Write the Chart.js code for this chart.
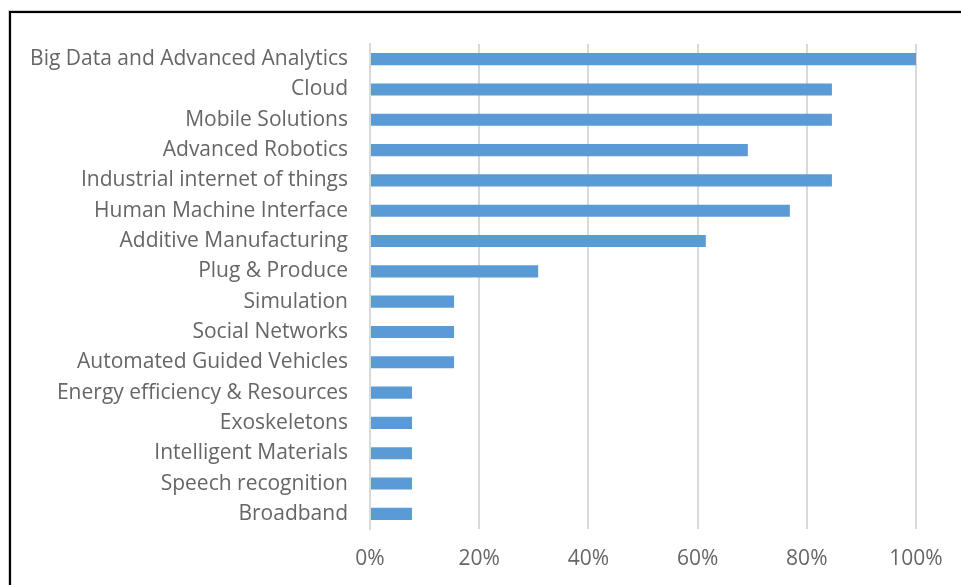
<!DOCTYPE html>
<html>
<head>
<meta charset="utf-8">
<script src="https://cdn.jsdelivr.net/npm/chart.js@4"></script>
<style>
  html, body { margin: 0; padding: 0; background: #fff; }
  #wrap { position: relative; width: 961px; height: 585px; overflow: hidden; }
  #frame {
    position: absolute; left: 9px; top: 11px; width: 970px; height: 600px;
    border-left: 2px solid #000; border-top: 2px solid #000;
    box-shadow: -1px -1px 0 #d0d0d0, inset 1px 1px 0 #e4e4e4;
  }
  canvas { position: absolute; left: 0; top: 0; }
</style>
</head>
<body>
<div id="wrap">
  <div id="frame"></div>
  <canvas id="barChart" width="961" height="585"></canvas>
</div>
<script>
// technologies, top to bottom
var technologies = [
  'Big Data and Advanced Analytics',
  'Cloud',
  'Mobile Solutions',
  'Advanced Robotics',
  'Industrial internet of things',
  'Human Machine Interface',
  'Additive Manufacturing',
  'Plug & Produce',
  'Simulation',
  'Social Networks',
  'Automated Guided Vehicles',
  'Energy efficiency & Resources',
  'Exoskeletons',
  'Intelligent Materials',
  'Speech recognition',
  'Broadband'
];

// share of answers, percent
var shares = [100, 84.6, 84.6, 69.2, 84.6, 76.9, 61.5, 30.8, 15.4, 15.4, 15.4, 7.7, 7.7, 7.7, 7.7, 7.7];

var percentTicks = [0, 20, 40, 60, 80, 100];

var labelFont = { family: '"Open Sans", sans-serif', size: 21 };

var ctx = document.getElementById('barChart').getContext('2d');
new Chart(ctx, {
  type: 'bar',
  data: {
    labels: technologies,
    datasets: [
      {
        data: shares,
        backgroundColor: '#5b9bd5',
        borderWidth: 0,
        barPercentage: 0.4,
        categoryPercentage: 1
      }
    ]
  },
  options: {
    indexAxis: 'y',
    responsive: false,
    animation: false,
    layout: { padding: { left: 0, right: 45, top: 44, bottom: 0 } },
    plugins: { legend: { display: false }, tooltip: { enabled: false } },
    scales: {
      x: {
        min: 0,
        max: 100,
        afterBuildTicks: function (scale) {
          scale.ticks = percentTicks.map(function (v) { return { value: v }; });
        },
        afterFit: function (scale) { scale.height = 56; },
        grid: { color: '#d9d9d9', lineWidth: 2, drawTicks: false },
        border: { display: false },
        ticks: {
          color: '#666666',
          font: labelFont,
          padding: 17,
          callback: function (v) { return v + '%'; }
        }
      },
      y: {
        afterFit: function (scale) { scale.width = 370; },
        grid: { display: false, drawTicks: false },
        border: { display: true, color: '#d9d9d9', width: 2 },
        ticks: { color: '#666666', font: labelFont, padding: 22, autoSkip: false }
      }
    }
  }
});
</script>
</body>
</html>
